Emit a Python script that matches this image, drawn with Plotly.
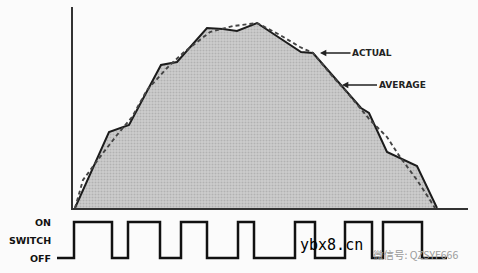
import plotly.graph_objects as go

# ACTUAL curve (time units, amplitude units)
actual_t = [0.5, 9, 14, 22, 26, 33.5, 37.5, 41, 46, 57, 60, 72, 74, 78.5, 86, 91]
actual_a = [0, 38, 41.5, 71.5, 73, 90, 89.5, 88.5, 92.5, 78, 77.5, 50, 47.5, 28, 21, 0]

# AVERAGE curve (dashed)
avg_t = [0.5, 2.5, 7.5, 11, 14.75, 18.5, 23.5, 27.5, 34.25, 40, 46, 51.75, 56.75, 60,
         65, 68, 74.25, 78.5, 81.75, 86, 89.25, 90.5]
avg_a = [0, 14, 27.5, 36.5, 45.5, 59, 70, 77.5, 88, 91, 92.5, 86.5, 80.5, 77.5,
         65.5, 59, 44, 35.5, 25.5, 14, 4, 0]

# Switch waveform (edge times and states)
sw_t = [-4, 0.25, 9.75, 13.75, 21.75, 27, 33.5, 41.25, 45.25, 55.5, 60.5, 68, 74.75,
        77.5, 87.25, 93.5]
sw_state = [0, 1, 0, 1, 0, 1, 0, 1, 0, 1, 0, 1, 0, 1, 0, 0]

switch_labels = ["ON", "SWITCH", "OFF"]
switch_label_levels = [1, 0.5, 0]

W, H = 478, 273
bg = "#fbfbfb"

fig = go.Figure()

fig.add_trace(go.Scatter(
    x=actual_t, y=actual_a, mode="lines", fill="tozeroy",
    fillcolor="#c6c6c6",
    fillpattern=dict(shape=".", bgcolor="#cdcdcd", fgcolor="#979797", size=3, solidity=0.35),
    line=dict(color="#1c1c1c", width=2), xaxis="x", yaxis="y", showlegend=False,
    hoverinfo="skip"))

fig.add_trace(go.Scatter(
    x=avg_t, y=avg_a, mode="lines",
    line=dict(color="#444444", width=1.9, dash="4px,3px"),
    xaxis="x", yaxis="y", showlegend=False, hoverinfo="skip"))

fig.add_trace(go.Scatter(
    x=sw_t, y=sw_state, mode="lines", line_shape="hv",
    line=dict(color="#111111", width=2.5),
    xaxis="x2", yaxis="y2", showlegend=False, hoverinfo="skip"))

annotations = [
    dict(x=61.75, y=77.5, xref="x", yref="y", text="<b>ACTUAL</b>", showarrow=True,
         ax=52, ay=0, arrowhead=2, arrowsize=0.9, arrowwidth=1.4, arrowcolor="#222",
         font=dict(family="DejaVu Sans", size=9, color="#222"), standoff=0),
    dict(x=67.25, y=61.5, xref="x", yref="y", text="<b>AVERAGE</b>", showarrow=True,
         ax=60, ay=0, arrowhead=2, arrowsize=0.9, arrowwidth=1.4, arrowcolor="#222",
         font=dict(family="DejaVu Sans", size=9, color="#222"), standoff=0),
]
for lab, lev in zip(switch_labels, switch_label_levels):
    annotations.append(dict(x=-5, y=lev, xref="x2", yref="y2", text="<b>%s</b>" % lab,
                            showarrow=False, xanchor="right", yanchor="middle",
                            font=dict(family="DejaVu Sans", size=9.5, color="#111")))

annotations.append(dict(x=298 / W, y=1 - 245 / H, xref="paper", yref="paper",
                        text="ybx8.cn", showarrow=False, xanchor="left", yanchor="middle",
                        font=dict(family="DejaVu Sans Mono", size=15, color="#000")))
annotations.append(dict(x=371 / W, y=1 - 254 / H, xref="paper", yref="paper",
                        text="微信号: QZSYF666", showarrow=False, xanchor="left",
                        yanchor="middle",
                        font=dict(family="Noto Sans CJK SC", size=10.5, color="#9a9a9a")))

fig.update_layout(
    width=W, height=H, margin=dict(l=0, r=0, t=0, b=0),
    paper_bgcolor=bg, plot_bgcolor="rgba(0,0,0,0)",
    xaxis=dict(domain=[73 / W, 468 / W], range=[0, 98.75], showgrid=False,
               zeroline=False, showticklabels=False, ticks="", showline=True,
               linecolor="#333", linewidth=2),
    yaxis=dict(domain=[(H - 208) / H, (H - 7) / H], range=[0, 100.5], showgrid=False,
               zeroline=False, showticklabels=False, ticks="", showline=True,
               linecolor="#333", linewidth=2),
    xaxis2=dict(domain=[0, 1], range=[-18.25, 101.25], anchor="y2", showgrid=False,
                zeroline=False, showticklabels=False, ticks="", showline=False),
    yaxis2=dict(domain=[0, 60 / H], range=[-0.4167, 1.25], anchor="x2", showgrid=False,
                zeroline=False, showticklabels=False, ticks="", showline=False),
    annotations=annotations,
)

fig.write_html("out.html")
